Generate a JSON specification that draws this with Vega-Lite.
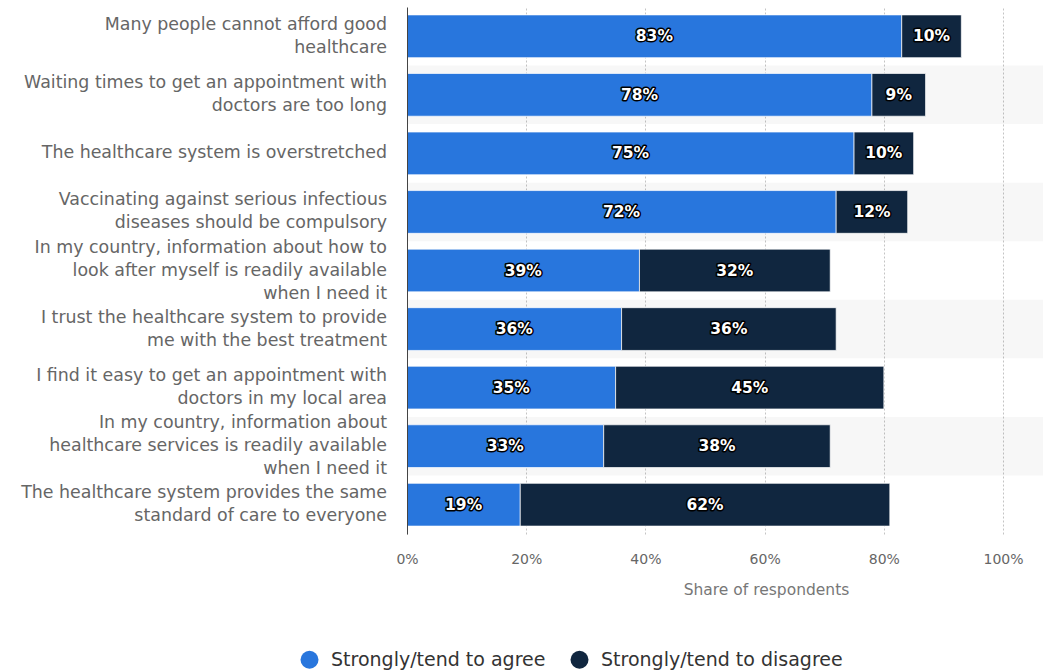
{
  "$schema": "https://vega.github.io/schema/vega-lite/v6.json",
  "width": 636,
  "height": 527,
  "padding": {"left": 21, "top": 7, "right": 0, "bottom": 5},
  "config": {
    "font": "DejaVu Sans",
    "view": {"stroke": null},
    "axis": {"labelFont": "DejaVu Sans", "titleFont": "DejaVu Sans"}
  },
  "datasets": {
    "main": [
      {"statement": "Many people cannot afford good|healthcare", "series": "Strongly/tend to agree", "value": 0.83},
      {"statement": "Many people cannot afford good|healthcare", "series": "Strongly/tend to disagree", "value": 0.10},
      {"statement": "Waiting times to get an appointment with|doctors are too long", "series": "Strongly/tend to agree", "value": 0.78},
      {"statement": "Waiting times to get an appointment with|doctors are too long", "series": "Strongly/tend to disagree", "value": 0.09},
      {"statement": "The healthcare system is overstretched", "series": "Strongly/tend to agree", "value": 0.75},
      {"statement": "The healthcare system is overstretched", "series": "Strongly/tend to disagree", "value": 0.10},
      {"statement": "Vaccinating against serious infectious|diseases should be compulsory", "series": "Strongly/tend to agree", "value": 0.72},
      {"statement": "Vaccinating against serious infectious|diseases should be compulsory", "series": "Strongly/tend to disagree", "value": 0.12},
      {"statement": "In my country, information about how to|look after myself is readily available|when I need it", "series": "Strongly/tend to agree", "value": 0.39},
      {"statement": "In my country, information about how to|look after myself is readily available|when I need it", "series": "Strongly/tend to disagree", "value": 0.32},
      {"statement": "I trust the healthcare system to provide|me with the best treatment", "series": "Strongly/tend to agree", "value": 0.36},
      {"statement": "I trust the healthcare system to provide|me with the best treatment", "series": "Strongly/tend to disagree", "value": 0.36},
      {"statement": "I find it easy to get an appointment with|doctors in my local area", "series": "Strongly/tend to agree", "value": 0.35},
      {"statement": "I find it easy to get an appointment with|doctors in my local area", "series": "Strongly/tend to disagree", "value": 0.45},
      {"statement": "In my country, information about|healthcare services is readily available|when I need it", "series": "Strongly/tend to agree", "value": 0.33},
      {"statement": "In my country, information about|healthcare services is readily available|when I need it", "series": "Strongly/tend to disagree", "value": 0.38},
      {"statement": "The healthcare system provides the same|standard of care to everyone", "series": "Strongly/tend to agree", "value": 0.19},
      {"statement": "The healthcare system provides the same|standard of care to everyone", "series": "Strongly/tend to disagree", "value": 0.62}
    ],
    "stripes": [
      {"statement": "Waiting times to get an appointment with|doctors are too long"},
      {"statement": "Vaccinating against serious infectious|diseases should be compulsory"},
      {"statement": "I trust the healthcare system to provide|me with the best treatment"},
      {"statement": "In my country, information about|healthcare services is readily available|when I need it"}
    ]
  },
  "encoding": {
    "y": {
      "field": "statement",
      "type": "nominal",
      "scale": {
        "domain": [
          "Many people cannot afford good|healthcare",
          "Waiting times to get an appointment with|doctors are too long",
          "The healthcare system is overstretched",
          "Vaccinating against serious infectious|diseases should be compulsory",
          "In my country, information about how to|look after myself is readily available|when I need it",
          "I trust the healthcare system to provide|me with the best treatment",
          "I find it easy to get an appointment with|doctors in my local area",
          "In my country, information about|healthcare services is readily available|when I need it",
          "The healthcare system provides the same|standard of care to everyone"
        ],
        "paddingInner": 0,
        "paddingOuter": 0
      },
      "axis": {
        "title": null,
        "labels": false,
        "ticks": false,
        "domain": true,
        "domainColor": "#444444",
        "domainWidth": 1,
        "grid": false
      }
    }
  },
  "layer": [
    {
      "data": {"name": "stripes"},
      "mark": {"type": "rect", "fill": "#000000", "fillOpacity": 0.03},
      "encoding": {
        "x": {"datum": 0, "type": "quantitative"},
        "x2": {"datum": 1.067}
      }
    },
    {
      "data": {"name": "main"},
      "mark": {"type": "bar", "height": {"band": 0.73}, "stroke": "#ffffff", "strokeWidth": 0.7},
      "encoding": {
        "x": {
          "field": "value",
          "type": "quantitative",
          "stack": "zero",
          "scale": {"domain": [0, 1.067], "nice": false, "zero": true},
          "axis": {
            "title": "Share of respondents",
            "values": [0, 0.2, 0.4, 0.6, 0.8, 1],
            "format": ".0%",
            "grid": true,
            "gridDash": [2, 2],
            "gridColor": "#c4c4c4",
            "domain": false,
            "ticks": false,
            "labelFlush": false,
            "labelFontSize": 14,
            "labelColor": "#666666",
            "labelPadding": 18,
            "titleFontSize": 15.5,
            "titleFontWeight": "normal",
            "titleColor": "#777777",
            "titlePadding": 16,
            "titleX": 359,
            "titleAlign": "center"
          }
        },
        "color": {
          "field": "series",
          "type": "nominal",
          "scale": {
            "domain": ["Strongly/tend to agree", "Strongly/tend to disagree"],
            "range": ["#2876dd", "#10263f"]
          },
          "legend": {
            "title": null,
            "orient": "none",
            "direction": "horizontal",
            "legendX": -107,
            "legendY": 643,
            "symbolType": "circle",
            "symbolSize": 324,
            "symbolStrokeWidth": 0,
            "labelFontSize": 19,
            "labelColor": "#333333",
            "labelFont": "DejaVu Sans",
            "labelLimit": 400,
            "columnPadding": 24,
            "labelOffset": 12
          }
        },
        "order": {"field": "series", "type": "nominal", "sort": "ascending"}
      }
    },
    {
      "data": {"name": "main"},
      "transform": [{"filter": "datum.series == 'Strongly/tend to agree' && length(split(datum.statement, '|')) == 1"}],
      "mark": {"type": "text", "align": "right", "baseline": "middle", "dx": -20, "dy": 0, "fontSize": 17.4, "fill": "#666666", "lineBreak": "|", "lineHeight": 23},
      "encoding": {
        "x": {"datum": 0, "type": "quantitative"},
        "text": {"field": "statement", "type": "nominal"}
      }
    },
    {
      "data": {"name": "main"},
      "transform": [{"filter": "datum.series == 'Strongly/tend to agree' && length(split(datum.statement, '|')) == 2"}],
      "mark": {"type": "text", "align": "right", "baseline": "middle", "dx": -20, "dy": -11.5, "fontSize": 17.4, "fill": "#666666", "lineBreak": "|", "lineHeight": 23},
      "encoding": {
        "x": {"datum": 0, "type": "quantitative"},
        "text": {"field": "statement", "type": "nominal"}
      }
    },
    {
      "data": {"name": "main"},
      "transform": [{"filter": "datum.series == 'Strongly/tend to agree' && length(split(datum.statement, '|')) == 3"}],
      "mark": {"type": "text", "align": "right", "baseline": "middle", "dx": -20, "dy": -23, "fontSize": 17.4, "fill": "#666666", "lineBreak": "|", "lineHeight": 23},
      "encoding": {
        "x": {"datum": 0, "type": "quantitative"},
        "text": {"field": "statement", "type": "nominal"}
      }
    },
    {
      "data": {"name": "main"},
      "mark": {"type": "text", "fontSize": 15.5, "fontWeight": "bold", "fill": "#ffffff", "stroke": "#000000", "strokeWidth": 3, "strokeJoin": "round"},
      "encoding": {
        "x": {"field": "value", "type": "quantitative", "stack": "zero", "bandPosition": 0.5},
        "detail": {"field": "series", "type": "nominal"},
        "order": {"field": "series", "type": "nominal", "sort": "ascending"},
        "text": {"field": "value", "type": "quantitative", "format": ".0%"}
      }
    },
    {
      "data": {"name": "main"},
      "mark": {"type": "text", "fontSize": 15.5, "fontWeight": "bold", "fill": "#ffffff"},
      "encoding": {
        "x": {"field": "value", "type": "quantitative", "stack": "zero", "bandPosition": 0.5},
        "detail": {"field": "series", "type": "nominal"},
        "order": {"field": "series", "type": "nominal", "sort": "ascending"},
        "text": {"field": "value", "type": "quantitative", "format": ".0%"}
      }
    }
  ]
}
